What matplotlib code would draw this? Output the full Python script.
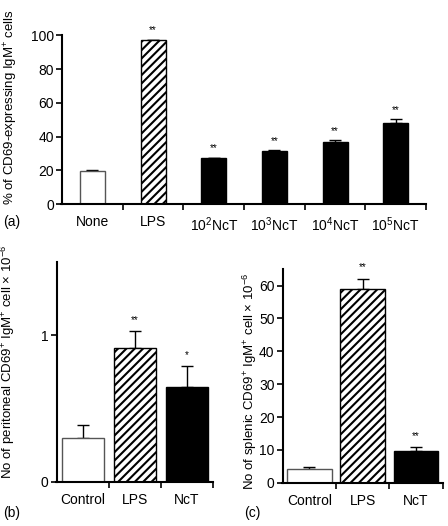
import matplotlib
matplotlib.use("Agg")
import matplotlib.pyplot as plt
import numpy as np

plt.rcParams['font.family'] = ['Liberation Sans', 'DejaVu Sans']
plt.rcParams['hatch.linewidth'] = 1.5
plt.rcParams['mathtext.fontset'] = 'custom'
plt.rcParams['mathtext.rm'] = 'Liberation Sans'
plt.rcParams['mathtext.it'] = 'Liberation Sans'

# Panel (a)
cats_a = ["None", "LPS", "10$^2$NcT", "10$^3$NcT", "10$^4$NcT", "10$^5$NcT"]
vals_a = [19.5, 97.0, 27.0, 31.5, 37.0, 48.2]
errs_a = [0.4, 0.4, 0.5, 0.5, 0.9, 2.0]
sig_a = ["", "**", "**", "**", "**", "**"]
style_a = ["white", "hatch", "black", "black", "black", "black"]

# Panel (b)
cats_b = ["Control", "LPS", "NcT"]
vals_b = [0.30, 0.915, 0.645]
errs_b = [0.086, 0.115, 0.148]
sig_b = ["", "**", "*"]
style_b = ["white", "hatch", "black"]

# Panel (c)
cats_c = ["Control", "LPS", "NcT"]
vals_c = [4.1, 59.0, 9.5]
errs_c = [0.6, 3.0, 1.3]
sig_c = ["", "**", "**"]
style_c = ["white", "hatch", "black"]

fig = plt.figure(figsize=(4.48, 5.26), dpi=100)
ax_a = fig.add_axes([0.136, 0.612, 0.815, 0.321])
ax_b = fig.add_axes([0.125, 0.0837, 0.350, 0.418])
ax_c = fig.add_axes([0.629, 0.0823, 0.359, 0.406])


def draw(ax, cats, vals, errs, sig, styles, width, ylim, yticks, ylabel, star_off, labxy, fs=10, lfs=9.5):
    x = np.arange(len(cats))
    for xi, v, e, st in zip(x, vals, errs, styles):
        if st == "white":
            ax.bar(xi, v, width, color="white", edgecolor="#555555", linewidth=1.0, zorder=2)
        elif st == "hatch":
            ax.bar(xi, v, width, color="white", edgecolor="black", hatch="////", linewidth=1.0, zorder=2)
        else:
            ax.bar(xi, v, width, color="black", edgecolor="black", linewidth=1.0, zorder=2)
        ax.errorbar(xi, v, yerr=[[0], [e]], fmt="none", ecolor="black", elinewidth=1.0,
                    capsize=4, capthick=1.0, zorder=1)
    for xi, v, e, s in zip(x, vals, errs, sig):
        if s:
            ax.text(xi, v + e + star_off, s, ha="center", va="bottom", fontsize=7, clip_on=False)
    ax.set_xlim(-0.52, len(cats) - 0.5)
    ax.set_ylim(*ylim)
    ax.set_yticks(yticks)
    ax.set_xticks(x)
    ax.set_xticklabels(cats, fontsize=fs)
    ax.tick_params(axis="x", which="major", length=0, pad=8)
    ax.set_xticks(np.arange(len(cats)) + 0.5, minor=True)
    ax.tick_params(axis="x", which="minor", length=4, width=1.2, direction="out")
    ax.tick_params(axis="y", length=4, width=1.2, labelsize=fs, direction="out", pad=2)
    ax.spines["top"].set_visible(False)
    ax.spines["right"].set_visible(False)
    ax.spines["left"].set_linewidth(1.5)
    ax.spines["bottom"].set_linewidth(1.5)
    ax.spines["left"].set_position(("data", -0.5))
    ax.set_ylabel(ylabel, fontsize=lfs)
    ax.yaxis.set_label_coords(*labxy)


draw(ax_a, cats_a, vals_a, errs_a, sig_a, style_a, 0.41, (0, 100), [0, 20, 40, 60, 80, 100],
     "% of CD69-expressing IgM$^{+}$ cells", 2.5, (-0.112, 0.574))
draw(ax_b, cats_b, vals_b, errs_b, sig_b, style_b, 0.82, (0, 1.5), [0, 1],
     "No of peritoneal CD69$^{+}$ IgM$^{+}$ cell × 10$^{-6}$", 0.04, (-0.248, 0.545))
draw(ax_c, cats_c, vals_c, errs_c, sig_c, style_c, 0.84, (0, 65), [0, 10, 20, 30, 40, 50, 60],
     "No of splenic CD69$^{+}$ IgM$^{+}$ cell × 10$^{-6}$", 2.0, (-0.141, 0.476))

fig.text(0.008, 0.578, "(a)", fontsize=10, ha="left", va="center")
fig.text(0.008, 0.025, "(b)", fontsize=10, ha="left", va="center")
fig.text(0.545, 0.025, "(c)", fontsize=10, ha="left", va="center")

fig.savefig("out.png", dpi=100)
